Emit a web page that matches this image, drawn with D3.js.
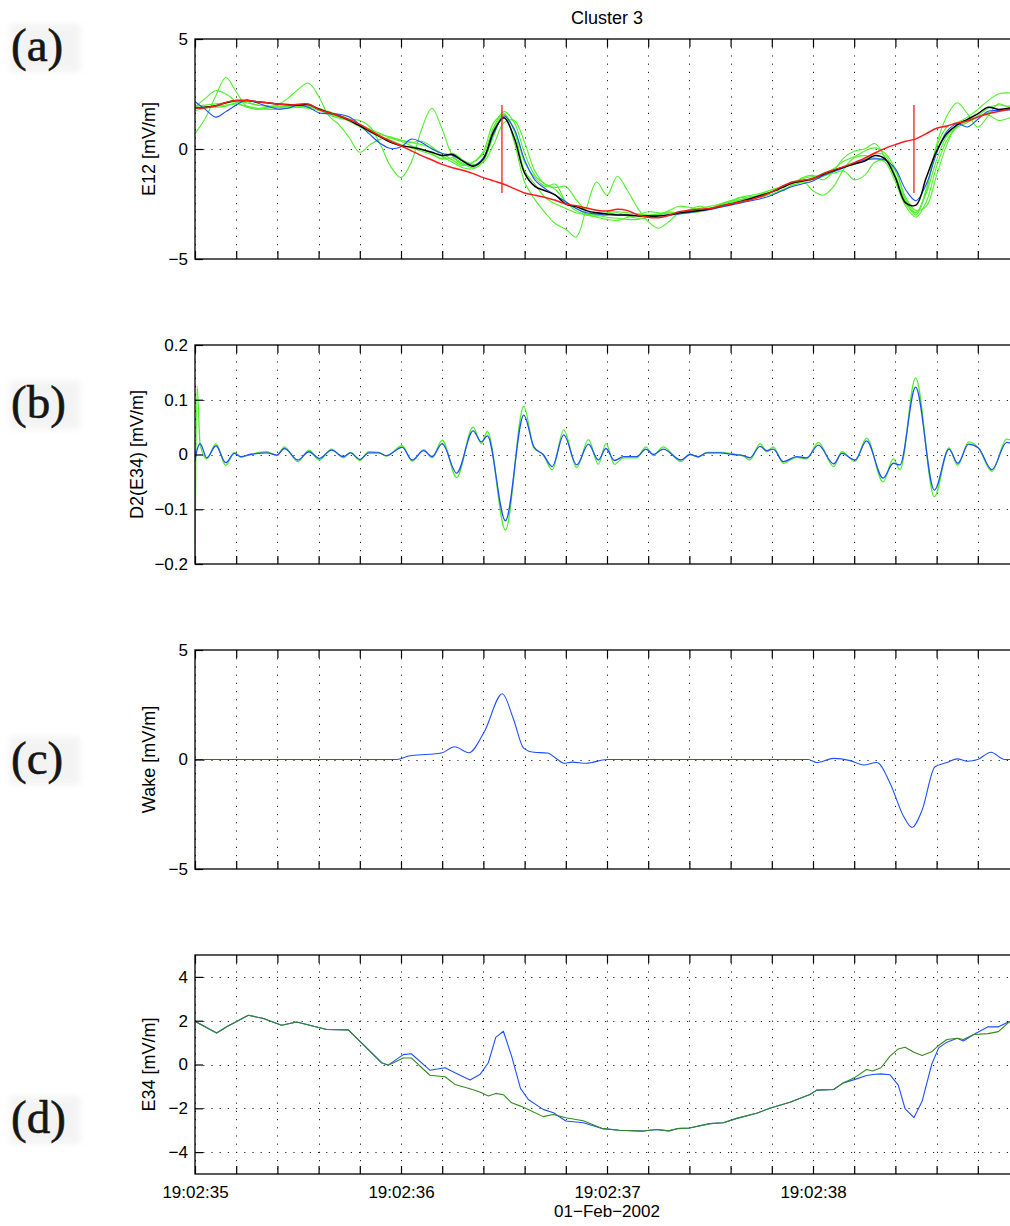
<!DOCTYPE html>
<html>
<head>
<meta charset="utf-8">
<script src="https://cdn.jsdelivr.net/npm/d3@7"></script>
<style>
body{margin:0;background:#fff;}
svg{display:block;}
</style>
</head>
<body>
<svg id="fig" width="1010" height="1226"></svg>
<script>

// ---------- data (time in seconds after 19:02:35) ----------

// panel (a): E12, sampled every 0.05 s from 0 to 4 s
var aStep = 0.05;
var aRed = [1.86,1.88,1.95,2.12,2.2, 2.2,2.15,2.1,2.05,2.0, 2.03,2.05,1.8,1.65,1.5,
  1.33,1.12,0.85,0.58,0.35, 0.15,-0.08,-0.3,-0.5,-0.7, -0.85,-0.97,-1.12,-1.3,-1.45,
  -1.6,-1.8,-2.0,-2.1,-2.2, -2.33,-2.5,-2.58,-2.68,-2.78, -2.82,-2.74,-2.8,-3.0,-3.1,
  -3.12,-3.02,-2.85,-2.78,-2.74, -2.7,-2.6,-2.5,-2.4,-2.3, -2.15,-1.95,-1.7,-1.5,-1.42,
  -1.35,-1.12,-0.95,-0.8,-0.62, -0.42,-0.18,0.03,0.2,0.35, 0.46,0.7,0.94,1.05,1.18,
  1.27,1.45,1.6,1.7,1.8, 1.85];
var aBlack = [1.86,1.9,1.97,2.1,2.2, 2.2,2.15,2.1,2.05,2.02, 2.0,2.02,1.82,1.66,1.5,
  1.3,1.05,0.8,0.55,0.3, 0.15,0.08,-0.02,-0.15,-0.3, -0.25,-0.55,-0.78,-0.45,0.8,
  1.42,0.5,-1.1,-1.7,-1.9, -2.1,-2.5,-2.62,-2.8,-2.9, -2.95,-3.0,-3.0,-3.05,-3.05,
  -3.05,-3.0,-2.9,-2.85,-2.8, -2.72,-2.6,-2.5,-2.38,-2.25, -2.1,-1.95,-1.75,-1.55,-1.45,
  -1.35,-1.15,-0.98,-0.82,-0.68, -0.55,-0.3,-0.45,-1.3,-2.45, -2.55,-1.3,-0.1,0.7,1.1,
  1.35,1.6,1.9,1.8,1.85, 1.9];
var aBlue = [2.15,1.8,1.45,1.7,2.0, 2.23,2.1,1.95,1.82,1.85, 2.0,1.9,1.65,1.6,1.58,
  1.45,1.1,0.65,0.25,0.02, 0.1,0.45,0.3,0.0,-0.2, -0.3,-0.55,-0.75,-0.4,0.7,
  1.5,0.9,-0.5,-1.4,-1.8, -2.1,-2.4,-2.7,-2.9,-2.95, -3.0,-3.0,-3.0,-3.02,-3.02,
  -3.02,-3.0,-2.95,-2.9,-2.82, -2.75,-2.65,-2.55,-2.45,-2.35, -2.25,-2.1,-1.9,-1.7,-1.58,
  -1.45,-1.2,-1.03,-0.85,-0.65, -0.5,-0.45,-0.5,-0.9,-1.85, -2.35,-1.6,-0.2,0.8,1.15,
  1.0,1.35,1.72,1.75,1.77, 1.8];
var aGreen1 = [0.7,1.4,2.4,3.25,2.6, 1.95,1.8,1.85,1.9,1.95, 1.9,1.85,1.75,1.6,1.45,
  1.25,1.0,0.75,0.55,0.4, 0.2,0.05,-0.1,-0.25,-0.45, -0.4,-0.65,-0.85,-0.4,0.9,
  1.6,0.3,-1.5,-2.3,-2.9, -3.4,-3.65,-4.0,-2.7,-1.5, -2.1,-1.25,-1.9,-2.7,-3.3,
  -3.6,-3.3,-2.9,-2.8,-2.8, -2.7,-2.55,-2.45,-2.3,-2.15, -2.2,-1.95,-1.7,-1.55,-1.5,
  -1.4,-1.25,-1.0,-0.8,-0.7, -0.5,-0.2,-0.3,-1.2,-2.4, -3.0,-1.8,0.1,1.0,1.2,
  1.45,1.8,2.2,2.5,2.55, 2.5];
var aGreen2 = [1.9,2.3,2.65,2.5,2.15, 1.9,1.85,1.9,2.0,2.3, 2.7,3.0,2.4,1.5,1.1,
  0.5,-0.15,0.2,0.45,0.5, 0.4,0.3,0.2,0.05,-0.2, -0.5,-0.75,-0.6,-0.1,1.2,
  1.55,0.9,-0.6,-1.3,-1.7, -1.6,-2.4,-2.7,-2.95,-3.0, -2.9,-2.85,-2.9,-2.95,-3.0,
  -2.95,-2.85,-2.9,-2.75,-2.6, -2.7,-2.55,-2.4,-2.2,-2.3, -2.05,-1.85,-1.9,-1.6,-1.3,
  -1.2,-1.4,-1.0,-0.4,-0.1, 0.0,0.25,-0.4,-1.3,-2.5, -2.9,-2.0,-0.5,0.6,1.0,
  1.2,1.5,1.85,2.0,1.95, 2.0];
var aGreen3 = [1.95,2.0,2.05,2.1,2.15, 2.1,2.0,1.95,1.95,1.95, 1.95,1.9,1.8,1.6,1.45,
  1.35,1.3,1.0,0.2,-0.8, -1.3,-0.6,0.9,1.85,0.9, -0.3,-0.7,-0.6,-0.2,1.0,
  1.7,1.2,-0.2,-1.2,-1.6, -1.85,-2.4,-2.8,-3.0,-3.1, -3.2,-3.25,-3.1,-3.0,-2.85,
  -2.9,-2.95,-2.85,-2.8,-2.7, -2.6,-2.5,-2.35,-2.2,-2.1, -2.0,-1.85,-1.7,-1.5,-1.45,
  -1.9,-2.1,-1.7,-0.9,-0.4, -0.3,-0.4,-0.6,-1.5,-2.6, -3.1,-2.4,-0.8,0.4,1.0,
  1.3,1.5,1.55,1.3,1.4, 1.5];
var aGreen4 = [1.75,1.85,1.95,2.0,2.05, 1.95,1.85,1.8,1.8,1.85, 1.9,1.95,1.85,1.7,1.55,
  1.35,1.1,0.9,0.7,0.5, 0.35,0.15,0.0,-0.2,-0.45, -0.2,-0.5,-0.7,-0.6,0.2,
  1.2,1.3,0.3,-1.0,-1.6, -1.75,-1.7,-2.3,-2.8,-3.0, -3.1,-3.15,-3.2,-3.2,-3.1,
  -3.0,-2.9,-2.95,-2.9,-2.85, -2.75,-2.65,-2.5,-2.35,-2.25, -2.15,-2.05,-1.85,-1.65,-1.5,
  -1.3,-1.1,-0.9,-0.55,-0.35, -0.1,0.05,-0.2,-0.9,-2.2, -2.8,-2.6,-1.2,0.2,1.1,
  1.3,1.45,1.65,1.75,1.8, 1.85];
var aGreen5 = [1.95,1.95,1.9,1.95,2.1, 2.15,2.0,1.95,1.9,1.9, 1.95,1.95,1.8,1.55,1.4,
  1.3,1.1,0.85,0.65,0.55, 0.4,0.3,0.35,0.1,-0.35, -0.6,-0.85,-0.9,-0.55,0.6,
  1.6,0.8,-1.0,-1.6,-2.2, -2.5,-2.7,-2.9,-3.0,-3.05, -3.0,-2.9,-3.05,-3.15,-3.1,
  -3.0,-2.8,-2.6,-2.65,-2.75, -2.7,-2.5,-2.35,-2.3,-2.2, -2.05,-1.95,-1.75,-1.55,-1.35,
  -1.25,-1.2,-1.1,-1.0,-1.4, -1.2,-0.6,-0.5,-1.0,-2.3, -2.9,-1.9,0.2,1.5,2.1,
  1.6,1.0,1.5,2.05,1.9, 1.9];
var markerTimes = [1.49, 3.49];
var markerSpan = [-2, 2];

// panel (b): D2(E34), points at the turning points
var bTime = [0,0.01,0.025,0.057,0.102,0.149,0.191,0.223,0.267,0.348,0.397,0.434,0.499,0.553,0.603,
  0.663,0.72,0.755,0.8,0.843,0.892,0.928,1.006,1.054,1.11,1.151,1.2,1.27,1.35,1.39,1.419,
  1.507,1.596,1.645,1.69,1.734,1.79,1.853,1.91,1.958,1.995,2.036,2.08,2.144,2.189,2.225,
  2.273,2.359,2.403,2.443,2.484,2.549,2.613,2.662,2.694,2.743,2.775,2.807,2.856,2.92,2.969,
  3.026,3.1,3.14,3.204,3.26,3.34,3.39,3.422,3.498,3.589,3.66,3.703,3.755,3.803,3.868,3.94,4.0];
var bBlue = [-0.01,0.008,0.02,-0.006,0.016,-0.015,0.002,-0.004,0,0.003,-0.001,0.011,-0.01,0.005,-0.007,
  0.008,-0.004,0.003,-0.009,0.003,0.003,-0.002,0.013,-0.01,0.007,-0.004,0.02,-0.034,0.043,0.023,0.034,
  -0.121,0.072,0.014,0.0,-0.022,0.036,-0.019,0.019,-0.01,0.011,-0.011,-0.004,-0.004,0.01,0,
  0.01,-0.01,0,-0.004,0.003,0.003,0,-0.002,-0.006,0.015,0.007,0.01,-0.013,-0.004,-0.006,
  0.017,-0.017,0.002,-0.01,0.025,-0.043,-0.016,-0.019,0.123,-0.065,0.01,-0.016,0.019,0.012,-0.028,0.022,0.015];
var bGreen = [-0.2,0.125,0.018,-0.008,0.02,-0.02,0.004,-0.005,0,0.005,-0.002,0.014,-0.013,0.008,-0.01,
  0.01,-0.006,0.004,-0.011,0.005,0.004,-0.003,0.016,-0.012,0.009,-0.006,0.026,-0.042,0.05,0.02,0.042,
  -0.138,0.088,0.012,0.0,-0.028,0.045,-0.024,0.027,-0.018,0.02,-0.018,-0.006,-0.006,0.014,-0.002,
  0.014,-0.013,0.001,-0.005,0.004,0.004,0.001,-0.003,-0.01,0.02,0.005,0.014,-0.016,-0.005,-0.008,
  0.022,-0.022,0.005,-0.013,0.03,-0.05,-0.008,-0.028,0.14,-0.077,0.012,-0.02,0.023,0.012,-0.031,0.028,0.018];

// panel (c): wake
var cTime = [0,0.5,0.979,1.044,1.14,1.2,1.26,1.33,1.404,1.492,1.545,1.596,1.645,1.71,1.76,1.79,1.83,1.9,2.0,2.5,
  2.977,3.018,3.1,3.18,3.245,3.31,3.374,3.44,3.48,3.53,3.592,3.65,3.7,3.75,3.8,3.864,3.93,4.0];
var cWake = [0,0,0,0.17,0.24,0.31,0.58,0.31,1.26,3.0,1.87,0.51,0.33,0.3,0.0,-0.17,-0.12,-0.17,0,0,
  0,-0.14,0.05,-0.05,-0.25,-0.14,-1.08,-2.6,-3.1,-2.3,-0.33,-0.14,0.03,-0.08,0,0.33,0,0];

// panel (d): E34 raw (blue) and wake corrected (green)
var dTime = [0,0.105,0.154,0.259,0.332,0.42,0.494,0.639,0.744,0.817,0.906,0.938,1.011,1.05,1.14,1.214,1.262,
  1.335,1.383,1.424,1.46,1.497,1.537,1.58,1.618,1.69,1.74,1.8,1.885,1.98,2.06,2.176,2.24,2.3,2.34,2.4,
  2.5,2.565,2.63,2.726,2.79,2.888,2.985,3.018,3.1,3.147,3.2,3.26,3.29,3.33,3.374,3.414,3.447,3.49,3.53,
  3.576,3.61,3.65,3.7,3.73,3.78,3.85,3.9,3.956];
var dBlue = [1.97,1.44,1.72,2.25,2.1,1.79,1.94,1.6,1.58,0.91,0.08,-0.03,0.45,0.49,-0.26,-0.15,-0.38,
  -0.71,-0.46,0.08,1.24,1.52,0.38,-1.09,-1.6,-2.05,-2.2,-2.58,-2.66,-2.93,-3.0,-3.04,-2.97,-3.03,-2.93,-2.9,
  -2.7,-2.66,-2.46,-2.23,-2.0,-1.72,-1.37,-1.17,-1.14,-0.84,-0.69,-0.5,-0.46,-0.43,-0.47,-0.94,-2.02,-2.43,-1.67,
  0.0,0.76,1.02,1.2,1.07,1.37,1.72,1.72,1.97];
var dGreen = [1.97,1.44,1.72,2.25,2.1,1.79,1.94,1.6,1.58,0.91,0.08,-0.03,0.3,0.3,-0.49,-0.56,-0.91,
  -1.11,-1.26,-1.44,-1.32,-1.38,-1.75,-1.9,-2.05,-2.38,-2.28,-2.43,-2.57,-2.93,-3.0,-3.04,-2.97,-3.03,-2.93,-2.9,
  -2.7,-2.66,-2.46,-2.23,-2.0,-1.72,-1.37,-1.17,-1.14,-0.84,-0.61,-0.23,-0.3,-0.15,0.38,0.71,0.79,0.56,0.41,
  0.58,0.87,1.14,1.2,1.14,1.37,1.41,1.5,1.97];

// ---------- drawing ----------
var GREEN = '#4ff02a', BLUE = '#1f4fff', RED = '#ff1a1a', DKGREEN = '#348a1e';
var SANS = '"Liberation Sans", Arial, Helvetica, sans-serif';
var SERIF = '"Liberation Serif", "Times New Roman", serif';

var t0 = new Date(2002, 1, 1, 19, 2, 35);
function toDate(s){ return new Date(t0.getTime() + s*1000); }

var svg = d3.select('#fig');
var xLeft = 195, xRight = 1019;
var x = d3.scaleTime().domain([t0, toDate(4)]).range([xLeft, xRight]);
// 0.2 s ticks; the one at the right border falls outside the picture
var xTicks = x.ticks(d3.timeMillisecond.every(200)).filter(function(d){ return d < toDate(4); });

var aTime = d3.range(aRed.length).map(function(i){ return i*aStep; });

var defs = svg.append('defs');
defs.append('filter').attr('id','soft')
  .append('feGaussianBlur').attr('stdDeviation', 3);

var intFmt = d3.format('d');
var panels = [
  {id:'a', top:39, bottom:259, dom:[-5,5], ticks:[-5,0,5], fmt:intFmt, label:'E12 [mV/m]', lx:149},
  {id:'b', top:345, bottom:564, dom:[-0.2,0.2], ticks:[-0.2,-0.1,0,0.1,0.2],
     fmt:function(d){ return d === 0 ? '0' : d3.format('.1f')(d); }, label:'D2(E34) [mV/m]', lx:137},
  {id:'c', top:650, bottom:869, dom:[-5,5], ticks:[-5,0,5], fmt:intFmt, label:'Wake [mV/m]', lx:149},
  {id:'d', top:955, bottom:1174, dom:[-5,5], ticks:[-4,-2,0,2,4], fmt:intFmt, label:'E34 [mV/m]', lx:149}
];

function drawLine(g, xs, ys, y, color, width, curve){
  var pts = xs.map(function(t, i){ return [t, ys[i]]; });
  g.append('path').datum(pts)
    .attr('fill','none')
    .attr('stroke', color)
    .attr('stroke-width', width)
    .attr('stroke-linejoin','round')
    .attr('d', d3.line()
      .x(function(d){ return x(toDate(d[0])); })
      .y(function(d){ return y(d[1]); })
      .curve(curve));
}

panels.forEach(function(p){
  var y = d3.scaleLinear().domain(p.dom).range([p.bottom, p.top]);
  var g = svg.append('g').attr('class','panel-' + p.id);

  // dotted grid
  var grid = g.append('g').attr('stroke','#222').attr('stroke-width',1)
    .attr('stroke-dasharray','1.2,7');
  grid.selectAll('.vg').data(xTicks).enter().append('line')
    .attr('x1', function(d){ return Math.round(x(d)) + 0.5; })
    .attr('x2', function(d){ return Math.round(x(d)) + 0.5; })
    .attr('y1', p.top).attr('y2', p.bottom);
  grid.selectAll('.hg').data(p.ticks.filter(function(v){ return v > p.dom[0] && v < p.dom[1]; }))
    .enter().append('line')
    .attr('x1', xLeft).attr('x2', xRight)
    .attr('y1', function(d){ return Math.round(y(d)) + 0.5; })
    .attr('y2', function(d){ return Math.round(y(d)) + 0.5; });

  // clip for data
  defs.append('clipPath').attr('id','clip-' + p.id)
    .append('rect').attr('x', xLeft).attr('y', p.top)
    .attr('width', xRight - xLeft).attr('height', p.bottom - p.top);
  var plot = g.append('g').attr('clip-path','url(#clip-' + p.id + ')');

  var cr = d3.curveCatmullRom.alpha(0.5);
  if (p.id === 'a') {
    [aGreen1, aGreen2, aGreen3, aGreen4, aGreen5].forEach(function(s){
      drawLine(plot, aTime, s, y, GREEN, 1.1, cr);
    });
    drawLine(plot, aTime, aBlue, y, BLUE, 1.1, cr);
    drawLine(plot, aTime, aBlack, y, '#000', 1.5, cr);
    drawLine(plot, aTime, aRed, y, RED, 1.5, cr);
    plot.selectAll('.marker').data(markerTimes).enter().append('line')
      .attr('x1', function(d){ return x(toDate(d)); })
      .attr('x2', function(d){ return x(toDate(d)); })
      .attr('y1', y(markerSpan[0])).attr('y2', y(markerSpan[1]))
      .attr('stroke', RED).attr('stroke-width', 1.3);
  } else if (p.id === 'b') {
    drawLine(plot, bTime, bGreen, y, GREEN, 1.3, d3.curveMonotoneX);
    drawLine(plot, bTime, bBlue, y, BLUE, 1.3, d3.curveMonotoneX);
  } else if (p.id === 'c') {
    drawLine(plot, cTime, cWake, y, BLUE, 1.1, d3.curveMonotoneX);
  } else {
    drawLine(plot, dTime, dBlue, y, BLUE, 1.1, d3.curveLinear);
    drawLine(plot, dTime, dGreen, y, DKGREEN, 1.1, d3.curveLinear);
  }

  // axes, ticks pointing inward like MATLAB
  g.append('g').attr('transform','translate(0,' + p.bottom + ')')
    .call(d3.axisBottom(x).tickValues(xTicks).tickSize(-8).tickSizeOuter(0)
      .tickPadding(12)
      .tickFormat(function(d){
        return (p.id === 'd' && d.getMilliseconds() === 0) ? d3.timeFormat('%H:%M:%S')(d) : '';
      }));
  g.append('g').attr('transform','translate(0,' + p.top + ')')
    .call(d3.axisTop(x).tickValues(xTicks).tickSize(-8).tickSizeOuter(0).tickFormat(''));
  g.append('g').attr('transform','translate(' + xLeft + ',0)')
    .call(d3.axisLeft(y).tickValues(p.ticks).tickSize(-8).tickSizeOuter(0)
      .tickPadding(7).tickFormat(p.fmt));
  g.selectAll('.domain').remove();
  g.selectAll('.tick text').style('font-size','17px')
    .style('font-family', SANS).attr('fill','#000');
  g.selectAll('.tick line').attr('stroke','#000').attr('stroke-width',1.2);

  // box
  g.append('rect').attr('x', xLeft).attr('y', p.top)
    .attr('width', xRight - xLeft).attr('height', p.bottom - p.top)
    .attr('fill','none').attr('stroke','#000').attr('stroke-width',1.3);

  // y label
  var cy = (p.top + p.bottom) / 2;
  g.append('text')
    .attr('transform','translate(' + p.lx + ',' + cy + ') rotate(-90)')
    .attr('text-anchor','middle').attr('dy','0.35em')
    .style('font-family', SANS).style('font-size','18px').text(p.label);
});

// panel letters (a)-(d), pasted-in bitmap look
var letterY = [48, 405, 761, 1120];
panels.forEach(function(p, i){
  svg.append('rect').attr('x', 10).attr('y', letterY[i] - 24).attr('width', 70).attr('height', 48)
    .attr('fill','#ececec').attr('opacity',0.6).attr('filter','url(#soft)');
  svg.append('text').attr('x', 11).attr('y', letterY[i] + 13)
    .style('font-family', SERIF).style('font-size','47px')
    .attr('fill','#161616').attr('stroke','#161616').attr('stroke-width',0.6)
    .text('(' + p.id + ')');
});

// title and date
svg.append('text').attr('x', (xLeft + xRight) / 2).attr('y', 24)
  .attr('text-anchor','middle').style('font-family', SANS).style('font-size','18px')
  .text('Cluster 3');
svg.append('text').attr('x', x(toDate(2))).attr('y', 1217)
  .attr('text-anchor','middle').style('font-family', SANS).style('font-size','17px')
  .text('01\u2212Feb\u22122002');

</script>
</body>
</html>
